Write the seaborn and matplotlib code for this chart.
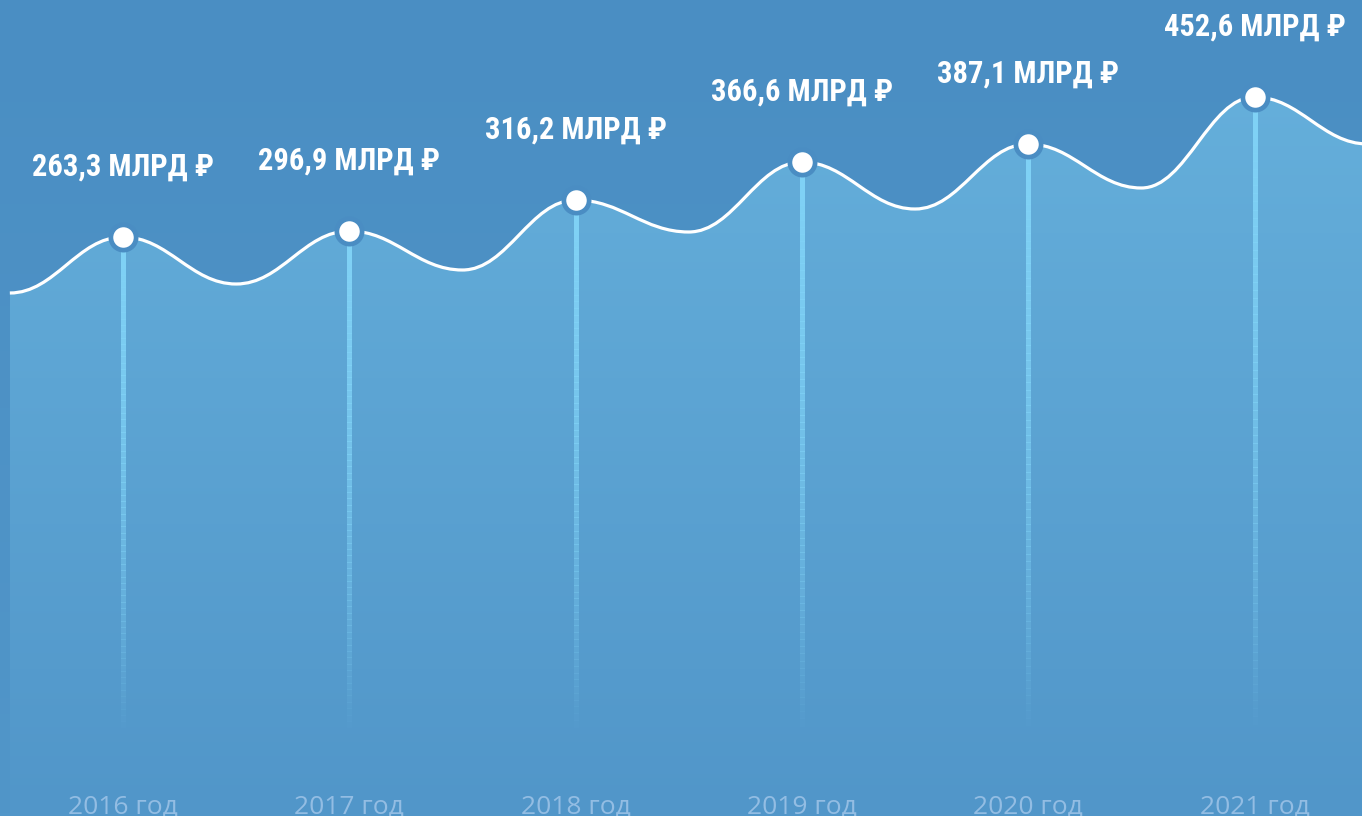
import matplotlib
matplotlib.use("Agg")
import matplotlib.pyplot as plt
import seaborn as sns
import numpy as np
import pandas as pd
from matplotlib.path import Path
from matplotlib.patches import PathPatch
from matplotlib.collections import LineCollection
from matplotlib.colors import LinearSegmentedColormap, to_rgba

# --- data ---
years = [2016, 2017, 2018, 2019, 2020, 2021]
values = [263.3, 296.9, 316.2, 366.6, 387.1, 452.6]
year_labels = ["2016 год", "2017 год", "2018 год", "2019 год", "2020 год", "2021 год"]

# visual height of each peak on the wave (pixels from the bottom edge)
peak_level = [579, 585, 616, 654, 672, 719]
# the decorative wave dips halfway between years
dip_pos = [2015.5, 2016.5, 2017.5, 2018.5, 2019.5, 2020.5, 2021.5]
dip_level = [523, 532, 546, 584, 607, 628, 672]

# --- styling ---
BG_TOP = "#4a8ec3"
BG_BOTTOM = "#5196c9"
FILL_TOP = "#65afdb"
FILL_BOTTOM = "#5196c9"
STEM = "#80d2f6"
RING = "#4a8dc3"
HEIGHT = 816

sns.set_theme(style="white")

df = pd.DataFrame({"year": years, "value": values, "level": peak_level})

# interleave dips and peaks into one wave
knots = []
for i in range(len(years)):
    knots.append((dip_pos[i], dip_level[i]))
    knots.append((years[i], peak_level[i]))
knots.append((dip_pos[-1], dip_level[-1]))


def wave_path(points, k=0.4, close_to=None):
    verts = [points[0]]
    codes = [Path.MOVETO]
    for (x0, y0), (x1, y1) in zip(points[:-1], points[1:]):
        dx = x1 - x0
        verts += [(x0 + k * dx, y0), (x1 - k * dx, y1), (x1, y1)]
        codes += [Path.CURVE4] * 3
    if close_to is not None:
        verts += [(points[-1][0], close_to), (points[0][0], close_to), points[0]]
        codes += [Path.LINETO, Path.LINETO, Path.CLOSEPOLY]
    return Path(verts, codes)


fig = plt.figure(figsize=(13.62, 8.16), dpi=100)
ax = fig.add_axes([0, 0, 1, 1])
x_left, x_right = 2015.4565, 2021.475
ax.set_xlim(x_left, x_right)
ax.set_ylim(0, HEIGHT)

grad = np.linspace(0, 1, 256).reshape(-1, 1)

# background gradient
bg_cmap = LinearSegmentedColormap.from_list("bg", [BG_BOTTOM, BG_TOP])
ax.imshow(grad, extent=[x_left, x_right, 0, HEIGHT], origin="lower",
          aspect="auto", cmap=bg_cmap, zorder=0)

# area under the wave with its own gradient
area = PathPatch(wave_path(knots, close_to=0), facecolor="none", edgecolor="none")
ax.add_patch(area)
fill_cmap = LinearSegmentedColormap.from_list("fill", [FILL_BOTTOM, FILL_TOP])
im = ax.imshow(grad, extent=[dip_pos[0], dip_pos[-1], 0, 730], origin="lower",
               aspect="auto", cmap=fill_cmap, zorder=1)
im.set_clip_path(area)

# fading stems under each point
stem_bottom = 76
n_seg = 80
for x, lvl in zip(years, peak_level):
    ys = np.linspace(lvl, stem_bottom, n_seg + 1)
    segs = [[(x, ys[j]), (x, ys[j + 1])] for j in range(n_seg)]
    base = np.array(to_rgba(STEM))
    cols = np.tile(base, (n_seg, 1))
    cols[:, 3] = 1 - np.linspace(0.0, 1.0, n_seg) ** 1.3
    ax.add_collection(LineCollection(segs, colors=cols, linewidths=2.2,
                                     capstyle="butt", antialiaseds=False,
                                     zorder=3))

# the white wave line
ax.add_patch(PathPatch(wave_path(knots), facecolor="none", edgecolor="white",
                       lw=2.3, zorder=4, capstyle="butt"))

# points
sns.scatterplot(data=df, x="year", y="level", s=330, color="white",
                edgecolor=RING, linewidth=3.4, zorder=5, ax=ax, legend=False)

# value labels
for x, lvl, v in zip(years, peak_level, values):
    txt = f"{v:.1f}".replace(".", ",") + " МЛРД ₽"
    ax.annotate(txt, xy=(x, lvl), xytext=(0, 51), textcoords="offset points",
                ha="center", va="center", color="white", fontsize=22,
                fontweight="bold", family=["Roboto Condensed", "DejaVu Sans"],
                zorder=6)

# year labels, cut by the bottom edge like in the original
for x, lab in zip(years, year_labels):
    ax.text(x, 2, lab, ha="center", va="baseline", fontsize=19,
            color="#93bde3", family=["Open Sans", "DejaVu Sans"], zorder=6)

ax.axis("off")
fig.savefig("out.png", dpi=100)
